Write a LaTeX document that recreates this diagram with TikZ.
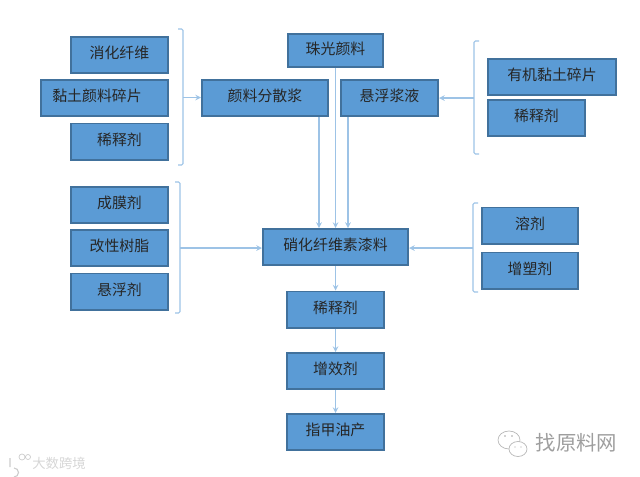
\documentclass[tikz,border=0pt]{standalone}
\usepackage{fontspec}
\setmainfont{Noto Sans CJK SC}
\usetikzlibrary{calc}
\definecolor{boxfill}{HTML}{5B9BD5}
\definecolor{boxline}{HTML}{41719C}
\definecolor{linkline}{HTML}{9DC3E6}
\tikzset{
	stuff/.style={draw=boxline, line width=1.3pt, fill=boxfill, inner sep=0pt, text=black!85,
		font=\fontsize{10.6pt}{12pt}\selectfont, text height=8.5pt, text depth=3.2pt,
		minimum width=#1*0.025cm-1.3pt, minimum height=0.95cm-1.3pt},
	stuff/.default=99,
	bracket/.style={draw=linkline, line width=0.8pt, rounded corners=1pt},
	link/.style={draw=linkline, line width=0.8pt, -stealth}
}

\begin{document}
\begin{tikzpicture}[x=0.025cm, y=-0.025cm]
		%%%%% START %%%%%
		\useasboundingbox (0, 0) rectangle (640, 476);
		
		\node[stuff] (xiaohua) at (119.5, 55) {消化纤维};
		\node[stuff=129] (niantu) at (104.5, 98) {\hspace*{-10.6pt}黏土颜料碎片};
		\node[stuff] (xishiA) at (119.5, 141.5) {稀释剂};
		
		\node[stuff=128] (fensan) at (265, 98) {颜料分散浆};
		\node[stuff=97, minimum height=0.875cm-1.3pt] (zhuguang) at (335.5, 50.5) {珠光颜料};
		\node[stuff] (xuanfu) at (389.5, 98) {悬浮浆液};
		
		\node[stuff=130] (youji) at (552, 77) {有机黏土碎片};
		\node[stuff] (xishiB) at (536.5, 118) {稀释剂};
		
		\node[stuff] (chengmo) at (119.5, 205) {成膜剂};
		\node[stuff] (gaixing) at (119.5, 248) {改性树脂};
		\node[stuff] (xuanfuji) at (119.5, 291.5) {悬浮剂};
		
		\node[stuff=147] (qiliao) at (335.5, 247) {硝化纤维素漆料};
		
		\node[stuff=98] (rongji) at (530, 225.5) {溶剂};
		\node[stuff=98] (zengsu) at (530, 270.5) {增塑剂};
		
		\node[stuff] (xishiC) at (335.5, 309.5) {稀释剂};
		\node[stuff] (zengxiao) at (335.5, 371) {增效剂};
		\node[stuff] (zhijia) at (335.5, 432) {指甲油产};
		
		% brackets
		\draw[bracket] (178, 29) -- (183, 29) -- (183, 165) -- (178, 165);
		\draw[bracket] (175, 182) -- (180, 182) -- (180, 313) -- (175, 313);
		\draw[bracket] (479, 41) -- (474, 41) -- (474, 154) -- (479, 154);
		\draw[bracket] (478, 203) -- (473, 203) -- (473, 292) -- (478, 292);
		\coordinate (braceA) at (183, 97.5);
		\coordinate (braceB) at (180, 248);
		\coordinate (braceC) at (474, 98);
		\coordinate (braceD) at (473, 248);
		
		\draw[link] (braceA) -- (braceA -| fensan.west);
		\draw[link] (braceC) -- (braceC -| xuanfu.east);
		\draw[link] (braceB) -- (braceB -| qiliao.west);
		\draw[link] (braceD) -- (braceD -| qiliao.east);
		
		\coordinate (inA) at (319, 228);
		\coordinate (inB) at (348, 228);
		\draw[link] (inA |- fensan.south) -- (inA);
		\draw[link] (zhuguang.south) -- (qiliao.north);
		\draw[link] (inB |- xuanfu.south) -- (inB);
		
		\draw[link] (qiliao) -- (xishiC);
		\draw[link] (xishiC) -- (zengxiao);
		\draw[link] (zengxiao) -- (zhijia);
		
		% watermarks
		\node[text=black!38, font=\fontsize{14.5pt}{16pt}\selectfont, inner sep=0pt] (zhaoyuanliao) at (576.5, 443) {找原料网};
		\draw[black!28, line width=0.5pt, fill=white] (509, 440) ellipse (11 and 9);
		\draw[black!28, line width=0.5pt, fill=white] (518, 449) ellipse (9 and 7.5);
		\fill[black!35] (505, 436) circle (0.8) (512, 436) circle (0.8) (515, 447) circle (0.7) (521, 447) circle (0.7);
		\node[text=black!16, font=\fontsize{9.5pt}{10pt}\selectfont, inner sep=0pt] (dashu) at (59, 463) {大数跨境};
		\draw[black!20, line width=0.8pt] (10, 458) -- (10, 467) (14, 468) arc (-90:90:4.5 and 4.5);
		\draw[black!20, line width=0.5pt] (22, 457) circle (3) (28, 457) circle (2.5);
		%%%%% END %%%%%
	\end{tikzpicture}
\end{document}
